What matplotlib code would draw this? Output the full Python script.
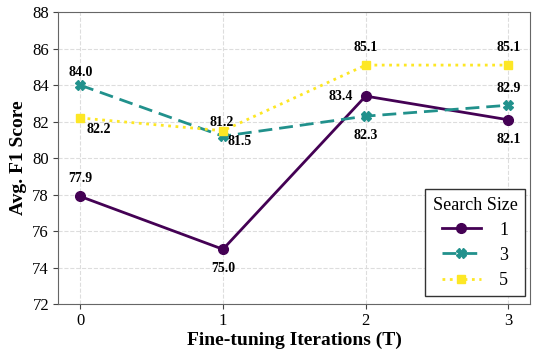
import matplotlib
matplotlib.use("Agg")
import matplotlib.pyplot as plt

plt.rcParams['font.family'] = ['Liberation Serif', 'DejaVu Serif']

iterations = [0, 1, 2, 3]
search_sizes = ["1", "3", "5"]
s1 = [77.9, 75.0, 83.4, 82.1]
s3 = [84.0, 81.2, 82.3, 82.9]
s5 = [82.2, 81.5, 85.1, 85.1]
yticks = [72, 74, 76, 78, 80, 82, 84, 86, 88]

colors = ["#440154", "#21918c", "#fde725"]

fig, ax = plt.subplots(figsize=(5.33, 3.49), dpi=100)
fig.subplots_adjust(left=0.109, right=0.994, top=0.965, bottom=0.129)

ax.plot(iterations, s1, color=colors[0], linestyle='-', marker='o', markersize=7, linewidth=2, label=search_sizes[0])
ax.plot(iterations, s3, color=colors[1], linestyle=(0, (5, 2.5)), marker='X', markersize=7, linewidth=2, label=search_sizes[1])
ax.plot(iterations, s5, color=colors[2], linestyle=':', marker='s', markersize=6, linewidth=2, label=search_sizes[2])

lab_kw = dict(fontsize=10, fontweight='bold', ha='center', va='center')
# offsets in points (dx, dy)
offs1 = [(0, 13), (0, -14), (-18, 0), (0, -14)]
offs3 = [(0, 9), (0, 0), (0, -14), (0, 12)]
offs5 = [(13, -8), (0, 0), (0, 13), (0, 13)]
for x, y, o in zip(iterations, s1, offs1):
    ax.annotate(f"{y:.1f}", (x, y), xytext=o, textcoords='offset points', **lab_kw)
for i, (x, y, o) in enumerate(zip(iterations, s3, offs3)):
    if i == 1:
        continue
    ax.annotate(f"{y:.1f}", (x, y), xytext=o, textcoords='offset points', **lab_kw)
for i, (x, y, o) in enumerate(zip(iterations, s5, offs5)):
    if i == 1:
        continue
    ax.annotate(f"{y:.1f}", (x, y), xytext=o, textcoords='offset points', **lab_kw)
# crowded labels at iteration 1
ax.annotate(f"{s3[1]:.1f}", (iterations[1], s5[1]), xytext=(-1, 6), textcoords='offset points', **lab_kw)
ax.annotate(f"{s5[1]:.1f}", (iterations[1], s3[1]), xytext=(12, -4), textcoords='offset points', **lab_kw)

ax.set_xlim(-0.155, 3.15)
ax.set_ylim(72, 88)
ax.set_xticks(iterations)
ax.set_yticks(yticks)
ax.tick_params(labelsize=12, colors='#444444', labelcolor='black', pad=3)
ax.grid(True, linestyle='--', color='#dddddd', linewidth=0.8)
ax.set_axisbelow(True)
for sp in ax.spines.values():
    sp.set_color('#666666')
ax.set_xlabel("Fine-tuning Iterations (T)", fontsize=14, fontweight='bold', labelpad=2)
ax.set_ylabel("Avg. F1 Score", fontsize=14, fontweight='bold', labelpad=4)

leg = ax.legend(title="Search Size", loc='lower right', fontsize=13, title_fontsize=13,
                fancybox=False, edgecolor='#333333', framealpha=1, handlelength=2.2,
                borderpad=0.4, labelspacing=0.45, handletextpad=1.0, borderaxespad=0,
                bbox_to_anchor=(0.989, 0.027))
leg.get_frame().set_linewidth(1.0)

fig.savefig("out.png", dpi=100)
